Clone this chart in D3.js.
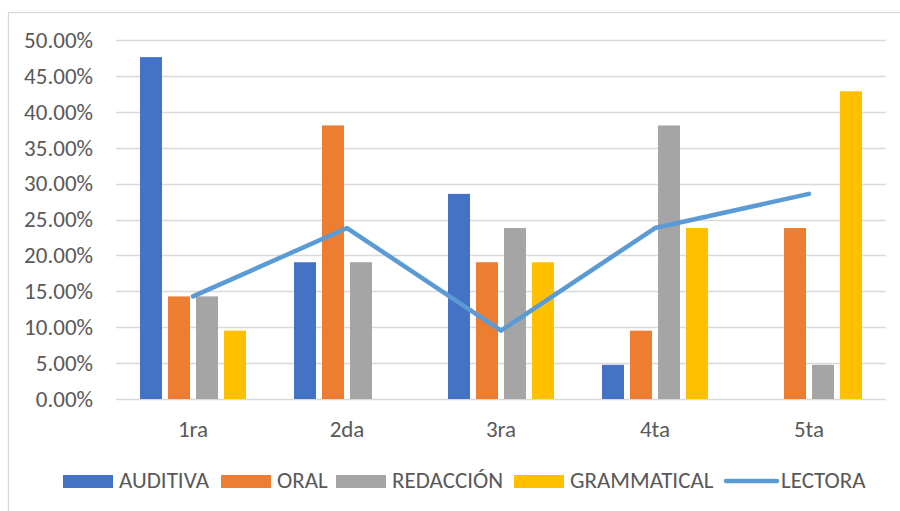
<!DOCTYPE html>
<html>
<head>
<meta charset="utf-8">
<script src="https://cdn.jsdelivr.net/npm/d3@7"></script>
<style>
  html, body { margin: 0; padding: 0; background: #fff; }
  svg { display: block; }
  text { font-family: Carlito, "Open Sans", "Liberation Sans", sans-serif; fill: #595959; }
</style>
</head>
<body>
<svg id="chart" width="900" height="511"></svg>
<script>
// Levels of competence per skill, share of students
const categories = ["1ra", "2da", "3ra", "4ta", "5ta"];
const auditiva    = [0.4762, 0.1905, 0.2857, 0.0476, 0];
const oral        = [0.1429, 0.3810, 0.1905, 0.0952, 0.2381];
const redaccion   = [0.1429, 0.1905, 0.2381, 0.3810, 0.0476];
const grammatical = [0.0952, 0, 0.1905, 0.2381, 0.4286];
const lectora     = [0.1429, 0.2381, 0.0952, 0.2381, 0.2857];
const yTicks = [0, 0.05, 0.10, 0.15, 0.20, 0.25, 0.30, 0.35, 0.40, 0.45, 0.50];

const barSeries = [
  { name: "AUDITIVA", values: auditiva, color: "#4472C4" },
  { name: "ORAL", values: oral, color: "#ED7D31" },
  { name: "REDACCIÓN", values: redaccion, color: "#A5A5A5" },
  { name: "GRAMMATICAL", values: grammatical, color: "#FFC000" }
];
const lineSeries = { name: "LECTORA", values: lectora, color: "#5B9BD5" };

const FONT = 'Carlito, "Open Sans", "Liberation Sans", sans-serif';
const FS = 23;

const svg = d3.select("#chart");
const plot = { left: 116, right: 886, top: 40, bottom: 399 };

// chart frame
svg.append("rect")
  .attr("x", 8.5).attr("y", 12.5)
  .attr("width", 900).attr("height", 520)
  .attr("fill", "none").attr("stroke", "#d9d9d9").attr("stroke-width", 1.3);

const x = d3.scaleBand().domain(categories).range([plot.left, plot.right]);
const y = d3.scaleLinear().domain([0, 0.5]).range([plot.bottom, plot.top]);

const barW = 22, barStep = 28;
const groupW = barStep * (barSeries.length - 1) + barW;

// gridlines
svg.append("g").selectAll("line").data(yTicks).join("line")
  .attr("x1", plot.left).attr("x2", plot.right)
  .attr("y1", d => Math.round(y(d)) + 0.5).attr("y2", d => Math.round(y(d)) + 0.5)
  .attr("stroke", "#d9d9d9").attr("stroke-width", 1.3);

// y axis labels
const yAxis = d3.axisLeft(y).tickValues(yTicks).tickSize(0).tickPadding(0)
  .tickFormat(d => (d * 100).toFixed(2) + "%");
const yg = svg.append("g").attr("transform", `translate(${plot.left - 23},0)`).call(yAxis);
yg.select(".domain").remove();
yg.selectAll("text").attr("font-size", FS).attr("fill", "#595959").style("font-family", FONT);

// bars
barSeries.forEach((s, i) => {
  svg.append("g").selectAll("rect").data(s.values).join("rect")
    .attr("x", (d, j) => x(categories[j]) + x.bandwidth() / 2 - groupW / 2 + i * barStep)
    .attr("width", barW)
    .attr("y", d => y(d))
    .attr("height", d => y(0) - y(d))
    .attr("fill", s.color);
});

// x axis labels
const xAxis = d3.axisBottom(x).tickSize(0).tickPadding(0);
const xg = svg.append("g").attr("transform", `translate(0,${plot.bottom + 22})`).call(xAxis);
xg.select(".domain").remove();
xg.selectAll("text").attr("font-size", FS).attr("fill", "#595959").style("font-family", FONT);

// line series
const line = d3.line()
  .x((d, j) => x(categories[j]) + x.bandwidth() / 2)
  .y(d => y(d));
svg.append("path").datum(lineSeries.values)
  .attr("d", line)
  .attr("fill", "none").attr("stroke", lineSeries.color)
  .attr("stroke-width", 4.5).attr("stroke-linecap", "round").attr("stroke-linejoin", "round");

// legend
const legendItems = [
  { name: "AUDITIVA", color: "#4472C4", x: 63, type: "rect" },
  { name: "ORAL", color: "#ED7D31", x: 221, type: "rect" },
  { name: "REDACCIÓN", color: "#A5A5A5", x: 336, type: "rect" },
  { name: "GRAMMATICAL", color: "#FFC000", x: 514, type: "rect" },
  { name: "LECTORA", color: "#5B9BD5", x: 726, type: "line" }
];
const lg = svg.append("g");
legendItems.forEach(it => {
  if (it.type === "rect") {
    lg.append("rect").attr("x", it.x).attr("y", 475).attr("width", 50).attr("height", 13).attr("fill", it.color);
  } else {
    lg.append("line").attr("x1", it.x).attr("x2", it.x + 51).attr("y1", 481).attr("y2", 481)
      .attr("stroke", it.color).attr("stroke-width", 4.5).attr("stroke-linecap", "round");
  }
  lg.append("text").attr("x", it.type === "rect" ? it.x + 56 : it.x + 55).attr("y", 487.5)
    .attr("font-size", FS).style("font-family", FONT).text(it.name);
});
</script>
</body>
</html>
